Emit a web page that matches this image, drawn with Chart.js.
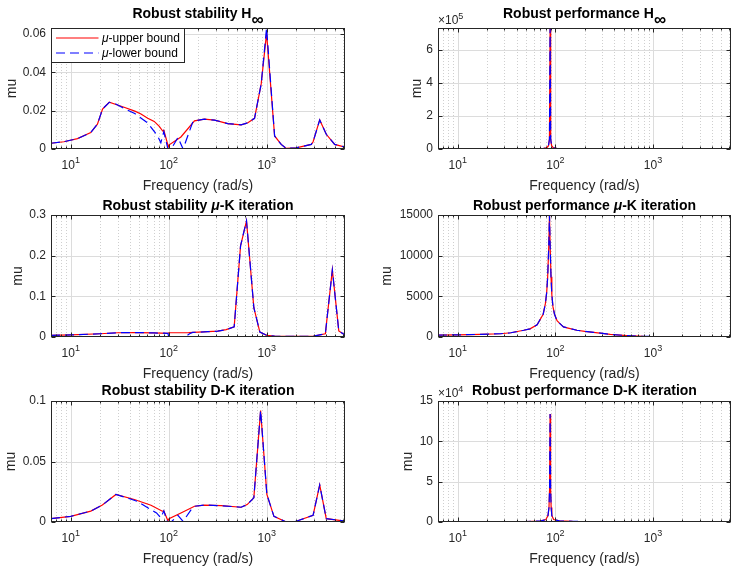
<!DOCTYPE html>
<html lang="en">
<head>
<meta charset="UTF-8">
<title>mu bounds - robust stability and performance</title>
<script src="https://cdn.jsdelivr.net/npm/chart.js"></script>
<style>
  body { margin: 0; background: #fff; }
  #figure { position: relative; width: 732px; height: 571px; background: #fff; overflow: hidden; }
  #figure canvas { position: absolute; left: 0; top: 0; }
</style>
</head>
<body>
<div id="figure">
  <canvas id="stabHinf" width="732" height="571"></canvas>
  <canvas id="perfHinf" width="732" height="571"></canvas>
  <canvas id="stabMuK" width="732" height="571"></canvas>
  <canvas id="perfMuK" width="732" height="571"></canvas>
  <canvas id="stabDK" width="732" height="571"></canvas>
  <canvas id="perfDK" width="732" height="571"></canvas>
</div>
<script>
// frequency axis (rad/s), 2*pi .. 2*pi*1000
const F_MIN = 6.2832;
const F_MAX = 6283.2;
const decadeTicks = [10, 100, 1000];
const decadeExponents = ['1', '2', '3'];
const minorTicks = [7, 8, 9, 20, 30, 40, 50, 60, 70, 80, 90, 200, 300, 400, 500, 600, 700, 800, 900,
                    2000, 3000, 4000, 5000, 6000];

// Robust stability, H-infinity controller
const freqUpperStabHinf = [6.28, 8.5, 11.7, 16, 18.7, 21.1, 24.7, 35, 45, 52, 61, 71, 80, 86.7, 89, 99, 101,
  133, 183, 231, 293, 400, 547, 641, 750, 877, 995, 1202, 1403, 1579, 1995, 2845, 2970, 3468, 4046, 4930, 6283];
const upperStabHinf = [0.0030, 0.0038, 0.0054, 0.0086, 0.0130, 0.0209, 0.0244, 0.0218, 0.0198, 0.0183, 0.0161,
  0.0144, 0.0118, 0.0094, 0.0098, 0.0012, 0.0022, 0.0063, 0.0147, 0.0156, 0.0151, 0.0133, 0.0126, 0.0137, 0.0160,
  0.0340, 0.0605, 0.0068, 0.0024, 0.0003, 0.0006, 0.0024, 0.0038, 0.0152, 0.0077, 0.0024, 0.0010];
const freqLowerStabHinf = [6.28, 8.5, 11.7, 16, 18.7, 21.1, 24.7, 28, 35, 45, 61, 77, 83, 89, 98, 106, 124, 140,
  176, 183, 231, 293, 400, 547, 641, 750, 877, 995, 1202, 1403, 1579, 1995, 2845, 2970, 3468, 4046, 4930, 6283];
const lowerStabHinf = [0.0030, 0.0038, 0.0054, 0.0086, 0.0130, 0.0209, 0.0244, 0.0238, 0.0212, 0.0185, 0.0136,
  0.0068, 0.0033, 0.0091, 0.0000, 0.0000, 0.0060, 0.0000, 0.0142, 0.0147, 0.0156, 0.0151, 0.0133, 0.0126, 0.0137,
  0.0160, 0.0340, 0.0632, 0.0068, 0.0024, 0.0003, 0.0006, 0.0024, 0.0038, 0.0152, 0.0077, 0.0024, 0.0010];

// Robust performance, H-infinity controller
const freqPerfHinf = [6.28, 10, 20, 40, 60, 75, 82, 85, 87, 88.3, 89.5, 91.5, 95, 105, 130, 200, 400, 1000, 6283];
const upperPerfHinf = [150, 200, 300, 600, 1200, 3000, 8000, 20000, 60000, 730000, 60000, 20000, 8000, 3000,
  1300, 700, 300, 80, 40];
const lowerPerfHinf = [150, 200, 300, 600, 1200, 3000, 8000, 20000, 60000, 730000, 60000, 20000, 8000, 3000,
  1300, 700, 300, 80, 40];

// Robust stability, mu-K iteration
const freqUpperStabMuK = [6.28, 10, 20, 30, 45, 70, 98, 100, 160, 250, 316, 385, 465, 540, 621, 738, 850, 1000,
  1200, 2000, 3000, 3960, 4667, 5430, 6283];
const upperStabMuK = [0.004, 0.005, 0.008, 0.0105, 0.011, 0.010, 0.009, 0.0105, 0.011, 0.013, 0.0145, 0.018,
  0.025, 0.224, 0.285, 0.072, 0.012, 0.004, 0.002, 0.0015, 0.002, 0.008, 0.165, 0.015, 0.005];
const freqLowerStabMuK = [6.28, 10, 20, 30, 45, 70, 98, 100, 145, 163, 175, 250, 316, 385, 465, 540, 621, 738,
  850, 1000, 1200, 2000, 3000, 3960, 4667, 5430, 6283];
const lowerStabMuK = [0.004, 0.005, 0.008, 0.0105, 0.011, 0.010, 0.009, 0.000, 0.000, 0.008, 0.0113, 0.013,
  0.0145, 0.018, 0.025, 0.224, 0.286, 0.072, 0.012, 0.004, 0.002, 0.0015, 0.002, 0.008, 0.165, 0.015, 0.005];

// Robust performance, mu-K iteration
const freqPerfMuK = [6.28, 10, 17, 27.4, 35, 47.4, 55, 65, 75, 79, 81.5, 83.4, 85.5, 87, 88.5, 90.2, 92, 94.5, 98,
  104, 110, 121, 135, 166, 200, 246, 365, 540, 800, 1200, 6283];
const upperPerfMuK = [230, 260, 320, 400, 520, 830, 1000, 1500, 2800, 4100, 5500, 7400, 11000, 15000, 11000, 7400,
  5200, 3700, 2800, 2000, 1700, 1250, 1100, 830, 700, 580, 330, 170, 80, 50, 40];
const lowerPerfMuK = [230, 260, 320, 400, 520, 830, 1000, 1500, 2800, 4100, 5500, 7400, 11000, 15000, 11000, 7400,
  5200, 3700, 2800, 2000, 1700, 1250, 1100, 830, 700, 580, 330, 170, 80, 50, 40];

// Robust stability, D-K iteration
const freqUpperStabDK = [6.28, 10, 16, 21, 28.9, 44.5, 65.8, 86, 89, 98, 100.6, 133, 183, 231, 342, 547, 631,
  738, 865, 1002, 1183, 1580, 2000, 2970, 3468, 4046, 6283];
const upperStabDK = [0.0028, 0.0047, 0.0090, 0.0140, 0.0228, 0.0186, 0.0139, 0.0089, 0.0091, 0.0010, 0.0028,
  0.0075, 0.0130, 0.0140, 0.0135, 0.0122, 0.0144, 0.0200, 0.0922, 0.0228, 0.0047, 0.0000, 0.0006, 0.0056, 0.0306,
  0.0028, 0.0008];
const freqLowerStabDK = [6.28, 10, 16, 21, 28.9, 40, 48, 61, 75, 83, 89, 97, 106, 124, 140, 170, 183, 231, 342,
  547, 631, 738, 865, 1002, 1183, 1580, 2000, 2970, 3468, 4046, 6283];
const lowerStabDK = [0.0028, 0.0047, 0.0090, 0.0140, 0.0228, 0.0192, 0.0170, 0.0118, 0.0075, 0.0035, 0.0092,
  0.0000, 0.0000, 0.0055, 0.0005, 0.0105, 0.0130, 0.0140, 0.0135, 0.0122, 0.0144, 0.0200, 0.0922, 0.0228, 0.0047,
  0.0000, 0.0006, 0.0056, 0.0306, 0.0028, 0.0008];

// Robust performance, D-K iteration
const freqPerfDK = [6.28, 20, 50, 70, 80, 84, 86, 87.2, 88.3, 89.4, 90.5, 92, 96, 110, 150, 300, 1000, 6283];
const upperPerfDK = [100, 200, 500, 1200, 3000, 8000, 18000, 40000, 134000, 40000, 18000, 8000, 3000, 1500, 800,
  300, 100, 50];
const lowerPerfDK = [100, 200, 500, 1200, 3000, 8000, 18000, 40000, 134000, 40000, 18000, 8000, 3000, 1500, 800,
  300, 100, 50];

// y axes
const yTicksStabHinf = [0, 0.02, 0.04, 0.06];
const yLabelsStabHinf = ['0', '0.02', '0.04', '0.06'];
const yTicksPerfHinf = [0, 2e5, 4e5, 6e5];
const yLabelsPerfHinf = ['0', '2', '4', '6'];
const yTicksStabMuK = [0, 0.1, 0.2, 0.3];
const yLabelsStabMuK = ['0', '0.1', '0.2', '0.3'];
const yTicksPerfMuK = [0, 5000, 10000, 15000];
const yLabelsPerfMuK = ['0', '5000', '10000', '15000'];
const yTicksStabDK = [0, 0.05, 0.1];
const yLabelsStabDK = ['0', '0.05', '0.1'];
const yTicksPerfDK = [0, 5e4, 10e4, 15e4];
const yLabelsPerfDK = ['0', '5', '10', '15'];

const FONT = '"Liberation Sans", Arial, Helvetica, sans-serif';
const TITLE_FONT = 'bold 14px ' + FONT;
const TITLE_GREEK = 'italic bold 14px ' + FONT;
const INF_FONT = 'bold 17px ' + FONT;
const AXIS_COLOR = '#262626';
const LOWER_DASH = [9, 5];

function pairs(freq, vals) {
  return freq.map((f, i) => ({ x: f, y: vals[i] }));
}

// draw a run of differently styled text pieces centred on cx
function drawRich(ctx, parts, cx, baseline) {
  let total = 0;
  parts.forEach(p => { ctx.font = p.font; p.w = ctx.measureText(p.text).width; total += p.w; });
  let x = cx - total / 2;
  parts.forEach(p => {
    ctx.font = p.font;
    ctx.fillText(p.text, x, baseline + (p.dy || 0));
    x += p.w;
  });
}

function buildChart(id, cfg) {
  const Y_W = 40, X_H = 10;
  const area = cfg.area;

  // MATLAB-like axes: dotted minor grid, inward ticks, box, labels, legend
  const axesPlugin = {
    id: 'matlabAxes',
    beforeDatasetsDraw(chart) {
      const { ctx, chartArea: a, scales: { x, y } } = chart;
      ctx.save();
      ctx.beginPath();
      ctx.rect(a.left, a.top, a.right - a.left, a.bottom - a.top);
      ctx.clip();
      ctx.lineWidth = 1;
      ctx.strokeStyle = '#cfcfcf';
      ctx.setLineDash([1, 2]);
      minorTicks.forEach(f => {
        const px = Math.round(x.getPixelForValue(f)) + 0.5;
        ctx.beginPath(); ctx.moveTo(px, a.top); ctx.lineTo(px, a.bottom); ctx.stroke();
      });
      ctx.setLineDash([]);
      ctx.strokeStyle = '#dcdcdc';
      decadeTicks.forEach(f => {
        const px = Math.round(x.getPixelForValue(f)) + 0.5;
        ctx.beginPath(); ctx.moveTo(px, a.top); ctx.lineTo(px, a.bottom); ctx.stroke();
      });
      cfg.yTicks.forEach(v => {
        const py = Math.round(y.getPixelForValue(v)) + 0.5;
        ctx.beginPath(); ctx.moveTo(a.left, py); ctx.lineTo(a.right, py); ctx.stroke();
      });
      ctx.restore();
    },
    afterDatasetsDraw(chart) {
      const { ctx, chartArea: a, scales: { x, y } } = chart;
      const l = Math.round(a.left) + 0.5, r = Math.round(a.right) - 0.5;
      const t = Math.round(a.top) + 0.5, b = Math.round(a.bottom) - 0.5;
      ctx.save();
      ctx.strokeStyle = AXIS_COLOR;
      ctx.lineWidth = 1;
      ctx.strokeRect(l, t, r - l, b - t);
      const tickX = (f, len) => {
        const px = Math.round(x.getPixelForValue(f)) + 0.5;
        ctx.beginPath();
        ctx.moveTo(px, b); ctx.lineTo(px, b - len);
        ctx.moveTo(px, t); ctx.lineTo(px, t + len);
        ctx.stroke();
      };
      decadeTicks.forEach(f => tickX(f, 4));
      minorTicks.forEach(f => tickX(f, 2));
      cfg.yTicks.forEach(v => {
        const py = Math.round(y.getPixelForValue(v)) + 0.5;
        ctx.beginPath();
        ctx.moveTo(l, py); ctx.lineTo(l + 4, py);
        ctx.moveTo(r, py); ctx.lineTo(r - 4, py);
        ctx.stroke();
      });

      if (cfg.legend) {
        const lx = l, ly = t, lw = 133, lh = 34;
        ctx.fillStyle = '#fff';
        ctx.fillRect(lx, ly, lw, lh);
        ctx.strokeStyle = AXIS_COLOR;
        ctx.strokeRect(lx, ly, lw, lh);
        const rows = [
          { y: ly + 9.5, color: '#ff0000', dash: [], label: '-upper bound' },
          { y: ly + 24.5, color: '#0000ff', dash: LOWER_DASH, label: '-lower bound' }
        ];
        rows.forEach(row => {
          ctx.strokeStyle = row.color;
          ctx.lineWidth = 1.2;
          ctx.setLineDash(row.dash);
          ctx.beginPath(); ctx.moveTo(lx + 4.5, row.y); ctx.lineTo(lx + 47, row.y); ctx.stroke();
          ctx.setLineDash([]);
          ctx.fillStyle = '#000';
          ctx.textAlign = 'left';
          ctx.textBaseline = 'alphabetic';
          ctx.font = 'italic 12px ' + FONT;
          ctx.fillText('μ', lx + 50.5, row.y + 3.5);
          const mw = ctx.measureText('μ').width;
          ctx.font = '12px ' + FONT;
          ctx.fillText(row.label, lx + 50.5 + mw, row.y + 3.5);
        });
      }
      ctx.restore();
    },
    afterDraw(chart) {
      const { ctx, chartArea: a, scales: { x } } = chart;
      const cx = (a.left + a.right) / 2;
      ctx.save();
      ctx.textBaseline = 'alphabetic';
      ctx.textAlign = 'left';

      ctx.fillStyle = '#000';
      drawRich(ctx, cfg.title, cx, a.top - cfg.titleGap);

      // x tick labels 10^n
      ctx.fillStyle = AXIS_COLOR;
      decadeTicks.forEach((f, i) => {
        const px = x.getPixelForValue(f);
        drawRich(ctx, [
          { text: '10', font: '12px ' + FONT },
          { text: decadeExponents[i], font: '9px ' + FONT, dy: -6 }
        ], px, a.bottom + 20);
      });

      ctx.font = '14px ' + FONT;
      ctx.textAlign = 'center';
      ctx.fillText('Frequency (rad/s)', cx, a.bottom + 40.5);

      ctx.save();
      ctx.translate(cfg.ylabelX + 3.7, (a.top + a.bottom) / 2);
      ctx.rotate(-Math.PI / 2);
      ctx.fillText('mu', 0, 0);
      ctx.restore();

      if (cfg.exponent) {
        ctx.textAlign = 'left';
        ctx.font = '12px ' + FONT;
        ctx.fillText('×10', a.left, a.top - 3.7);
        const w = ctx.measureText('×10').width;
        ctx.font = '9px ' + FONT;
        ctx.fillText(cfg.exponent, a.left + w, a.top - 9);
      }
      ctx.restore();
    }
  };

  return new Chart(document.getElementById(id), {
    type: 'line',
    data: {
      datasets: [
        {
          label: 'μ-upper bound',
          data: pairs(cfg.upperFreq, cfg.upper),
          borderColor: '#ff0000',
          borderWidth: 1.2,
          pointRadius: 0,
          tension: 0,
          order: 2
        },
        {
          label: 'μ-lower bound',
          data: pairs(cfg.lowerFreq, cfg.lower),
          borderColor: '#0000ff',
          borderWidth: 1.2,
          borderDash: LOWER_DASH,
          pointRadius: 0,
          tension: 0,
          order: 1
        }
      ]
    },
    options: {
      responsive: false,
      animation: false,
      events: [],
      layout: {
        padding: { left: area.left - Y_W, top: area.top, right: 732 - area.right, bottom: 571 - area.bottom - X_H }
      },
      scales: {
        x: {
          type: 'logarithmic',
          min: F_MIN,
          max: F_MAX,
          grid: { display: false, drawTicks: false },
          border: { display: false },
          ticks: { display: false },
          afterBuildTicks: s => { s.ticks = decadeTicks.map(v => ({ value: v })); },
          afterFit: s => { s.height = X_H; }
        },
        y: {
          type: 'linear',
          min: 0,
          max: cfg.yMax,
          grid: { display: false, drawTicks: false },
          border: { display: false },
          ticks: {
            autoSkip: false,
            padding: 5,
            color: AXIS_COLOR,
            font: { family: FONT, size: 12 },
            callback: (v, i) => cfg.yLabels[i]
          },
          afterBuildTicks: s => { s.ticks = cfg.yTicks.map(v => ({ value: v })); },
          afterFit: s => { s.width = Y_W; }
        }
      },
      plugins: { legend: { display: false }, tooltip: { enabled: false } }
    },
    plugins: [axesPlugin]
  });
}

const LEFT = { left: 51, right: 345 };
const RIGHT = { left: 438, right: 731 };
const ROWS = [{ top: 28, bottom: 149 }, { top: 215, bottom: 337 }, { top: 401, bottom: 522 }];
const area = (col, row) => ({ left: col.left, right: col.right, top: ROWS[row].top, bottom: ROWS[row].bottom });

buildChart('stabHinf', {
  area: area(LEFT, 0),
  title: [{ text: 'Robust stability H', font: TITLE_FONT }, { text: '∞', font: INF_FONT, dy: 7 }],
  titleGap: 10,
  upperFreq: freqUpperStabHinf, upper: upperStabHinf,
  lowerFreq: freqLowerStabHinf, lower: lowerStabHinf,
  yMax: 0.0632, yTicks: yTicksStabHinf, yLabels: yLabelsStabHinf,
  ylabelX: 12.2, legend: true
});

buildChart('perfHinf', {
  area: area(RIGHT, 0),
  title: [{ text: 'Robust performance H', font: TITLE_FONT }, { text: '∞', font: INF_FONT, dy: 7 }],
  titleGap: 10,
  upperFreq: freqPerfHinf, upper: upperPerfHinf,
  lowerFreq: freqPerfHinf, lower: lowerPerfHinf,
  yMax: 7.3e5, yTicks: yTicksPerfHinf, yLabels: yLabelsPerfHinf,
  ylabelX: 417, exponent: '5'
});

buildChart('stabMuK', {
  area: area(LEFT, 1),
  title: [{ text: 'Robust stability ', font: TITLE_FONT }, { text: 'μ', font: TITLE_GREEK },
          { text: '-K iteration', font: TITLE_FONT }],
  titleGap: 5.5,
  upperFreq: freqUpperStabMuK, upper: upperStabMuK,
  lowerFreq: freqLowerStabMuK, lower: lowerStabMuK,
  yMax: 0.3, yTicks: yTicksStabMuK, yLabels: yLabelsStabMuK,
  ylabelX: 18.3
});

buildChart('perfMuK', {
  area: area(RIGHT, 1),
  title: [{ text: 'Robust performance ', font: TITLE_FONT }, { text: 'μ', font: TITLE_GREEK },
          { text: '-K iteration', font: TITLE_FONT }],
  titleGap: 5.5,
  upperFreq: freqPerfMuK, upper: upperPerfMuK,
  lowerFreq: freqPerfMuK, lower: lowerPerfMuK,
  yMax: 15000, yTicks: yTicksPerfMuK, yLabels: yLabelsPerfMuK,
  ylabelX: 387.5
});

buildChart('stabDK', {
  area: area(LEFT, 2),
  title: [{ text: 'Robust stability D-K iteration', font: TITLE_FONT }],
  titleGap: 6,
  upperFreq: freqUpperStabDK, upper: upperStabDK,
  lowerFreq: freqLowerStabDK, lower: lowerStabDK,
  yMax: 0.1, yTicks: yTicksStabDK, yLabels: yLabelsStabDK,
  ylabelX: 11.7
});

buildChart('perfDK', {
  area: area(RIGHT, 2),
  title: [{ text: 'Robust performance D-K iteration', font: TITLE_FONT }],
  titleGap: 6,
  upperFreq: freqPerfDK, upper: upperPerfDK,
  lowerFreq: freqPerfDK, lower: lowerPerfDK,
  yMax: 15e4, yTicks: yTicksPerfDK, yLabels: yLabelsPerfDK,
  ylabelX: 408.5, exponent: '4'
});
</script>
</body>
</html>
